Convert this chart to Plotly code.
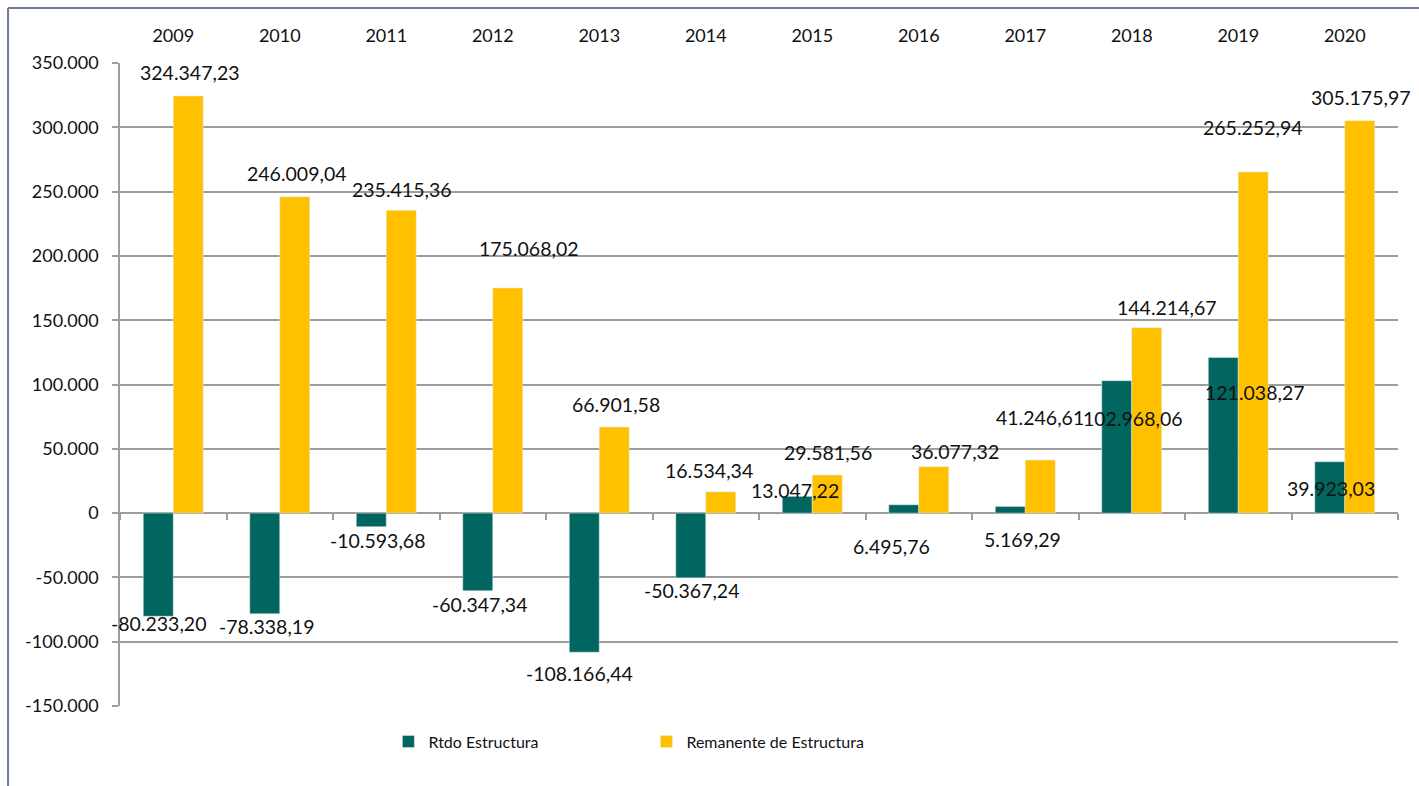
import plotly.graph_objects as go

years = ["2009", "2010", "2011", "2012", "2013", "2014",
         "2015", "2016", "2017", "2018", "2019", "2020"]
rtdo_estructura = [-80233.20, -78338.19, -10593.68, -60347.34, -108166.44, -50367.24,
                   13047.22, 6495.76, 5169.29, 102968.06, 121038.27, 39923.03]
remanente = [324347.23, 246009.04, 235415.36, 175068.02, 66901.58, 16534.34,
             29581.56, 36077.32, 41246.61, 144214.67, 265252.94, 305175.97]
y_ticks = [-150000, -100000, -50000, 0, 50000, 100000, 150000, 200000, 250000, 300000, 350000]

TEAL = "#00665f"
GOLD = "#ffc000"
GRID = "#9d9d9d"
FONT = "Lato"

# label nudges (px) to mimic the hand-placed labels of the original
rtdo_dx = [0, 2, 6, 2, -5, 1, -2, -12, 12, 16, 32, 1]
rtdo_dy = [-7, -13, -14, -14, -21, -13, 6, -42, -33, -38, -35, -27]
rem_dx = [2, 2, 1, 21, 2, -12, 1, 21, 0, 20, 0, 1]
rem_dy = [23, 23, 21, 39, 23, 21, 23, 15, 43, 20, 44, 23]
BAR_HALF = 15


def es_num(v, dec=2):
    s = f"{v:,.{dec}f}"
    return s.replace(",", "#").replace(".", ",").replace("#", ".")


fig = go.Figure()
fig.add_trace(go.Bar(x=years, y=rtdo_estructura, name="Rtdo Estructura",
                     marker_color=TEAL, hoverinfo="skip"))
fig.add_trace(go.Bar(x=years, y=remanente, name="Remanente de Estructura",
                     marker_color=GOLD, hoverinfo="skip"))
# helper trace for the tick marks along the zero line
fig.add_trace(go.Scatter(x=years, y=[0] * len(years), xaxis="x2", mode="markers",
                         marker_opacity=0, showlegend=False, hoverinfo="skip"))

annotations = []
for i, yr in enumerate(years):
    # x given as category index so the year strings aren't read as numbers
    annotations.append(dict(x=i, y=rtdo_estructura[i], text=es_num(rtdo_estructura[i]),
                            showarrow=False, xanchor="center", yanchor="middle",
                            xshift=-BAR_HALF + rtdo_dx[i], yshift=rtdo_dy[i],
                            font=dict(family=FONT, size=19.5, color="#111111")))
    annotations.append(dict(x=i, y=remanente[i], text=es_num(remanente[i]),
                            showarrow=False, xanchor="center", yanchor="middle",
                            xshift=BAR_HALF + rem_dx[i], yshift=rem_dy[i],
                            font=dict(family=FONT, size=19.5, color="#111111")))

fig.update_layout(
    width=1419, height=786,
    margin=dict(l=120, r=21, t=63, b=80),
    paper_bgcolor="white", plot_bgcolor="white",
    font=dict(family=FONT, size=18, color="#111111"),
    barmode="group", bargap=0.437, bargroupgap=0,
    annotations=annotations,
    showlegend=True,
    legend=dict(orientation="h", x=0.21, y=-0.029, xanchor="left", yanchor="top",
                font=dict(family=FONT, size=16), entrywidth=213,
                bgcolor="rgba(0,0,0,0)"),
    xaxis=dict(type="category", side="top", range=[-0.5, 11.5], showline=False,
               showgrid=False, ticks="", ticklabelstandoff=16,
               tickfont=dict(family=FONT, size=18)),
    xaxis2=dict(type="category", overlaying="x", anchor="free", position=0.3,
                range=[-0.5, 11.5], showline=False, showgrid=False,
                ticks="outside", ticklen=6, tickcolor=GRID, tickwidth=1.5,
                tickson="boundaries", showticklabels=False, zeroline=False),
    yaxis=dict(range=[-150000, 350000], tickvals=y_ticks,
               ticktext=[es_num(v, 0) for v in y_ticks],
               showgrid=True, gridcolor=GRID, gridwidth=1.5,
               zeroline=True, zerolinecolor=GRID, zerolinewidth=1.5,
               showline=True, linecolor=GRID, linewidth=1.5,
               ticks="outside", ticklen=6, tickcolor=GRID, tickwidth=1.5,
               ticklabelstandoff=10,
               tickfont=dict(family=FONT, size=18)),
    shapes=[
        dict(type="line", xref="paper", yref="paper", x0=-0.0876, x1=1.02,
             y0=1.0855, y1=1.0855, line=dict(color="#6d7b95", width=2)),
        dict(type="line", xref="paper", yref="paper", x0=-0.0876, x1=-0.0876,
             y0=1.0855, y1=-0.13, line=dict(color="#6d7b95", width=2)),
    ],
)

fig.write_html("out.html", config={"displayModeBar": False},
               post_script="document.body.style.margin='0';")
